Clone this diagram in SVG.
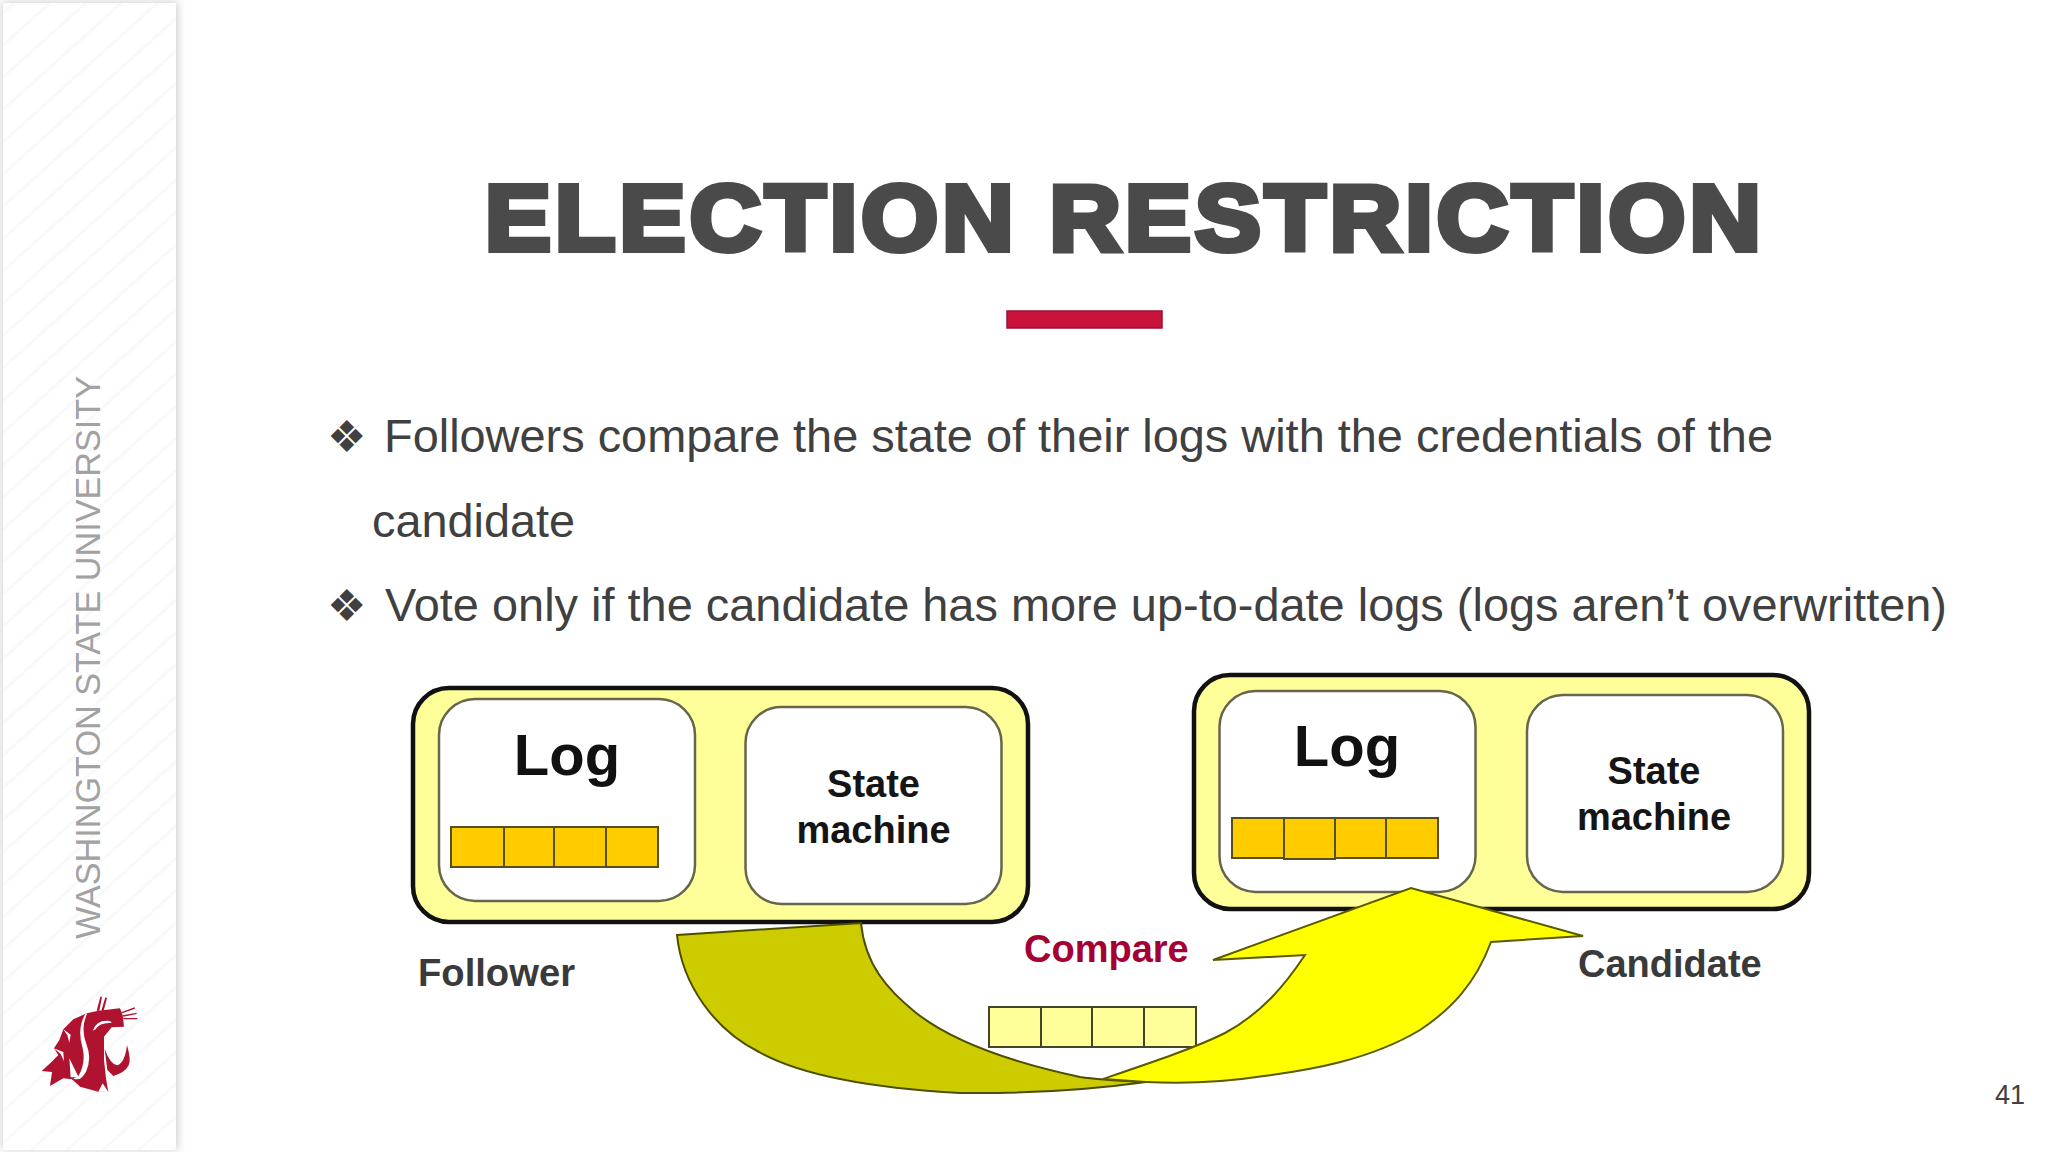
<svg xmlns="http://www.w3.org/2000/svg" width="2048" height="1152" viewBox="0 0 2048 1152">
<defs>
<style>
text{font-family:"Liberation Sans",Arial,sans-serif}
.b{font-weight:bold}
.body{font-size:46px;fill:#404040}
.bul{font-family:"DejaVu Sans",sans-serif;font-size:44px;fill:#404040}
.outer{fill:#ffff99;stroke:#111;stroke-width:4.5}
.inner{fill:#fff;stroke:#66664d;stroke-width:2.5}
.cell{fill:#ffcc00;stroke:#55501a;stroke-width:2}
.lcell{fill:#ffff99;stroke:#44442a;stroke-width:2}
.lg{font-size:58px;font-weight:bold;fill:#111;text-anchor:middle}
.sm{font-size:38px;font-weight:bold;fill:#151515;text-anchor:middle}
.lab{font-size:38px;font-weight:bold;fill:#3a3a3a}
</style>
<pattern id="st" width="24" height="24" patternUnits="userSpaceOnUse" patternTransform="rotate(-42)">
<rect width="24" height="24" fill="#fff"/>
<rect y="10" width="24" height="3" fill="#f9f9f9"/>
</pattern>
<filter id="sh" x="-10%" y="-5%" width="125%" height="110%"><feGaussianBlur stdDeviation="4"/></filter>
</defs>
<rect width="2048" height="1152" fill="#fff"/>
<g id="sidebar">
<rect x="2" y="2" width="176" height="1148" fill="#cfcfcf" filter="url(#sh)"/>
<rect x="3" y="3" width="173" height="1147" fill="url(#st)"/>
<text transform="translate(100,939) rotate(-90)" font-size="34.5" fill="#a2a2a2" textLength="563" lengthAdjust="spacingAndGlyphs">WASHINGTON STATE UNIVERSITY</text>
<g id="logo" transform="translate(30,990) scale(.3333)" fill="#b0132f">
<path d="M170 70 L130 88 L100 118 L88 150 L72 175 L85 195 L62 218 L35 243 L66 246 L60 288 L100 265 L125 268 L150 290 L205 305 L235 306 L228 265 L222 210 L222 140 L245 112 L282 110 L278 75 L270 55 L205 62Z"/>
<path d="M224 176 Q240 222 262 226 Q285 218 291 165 Q304 210 296 226 Q285 248 250 258 L232 240Z"/>
<path d="M200 62 L211 20 L216 20 L208 62Z M214 62 L226 22 L231 24 L221 62Z M275 66 L314 52 L315 56 L277 70Z M278 76 L320 68 L320 72 L280 80Z M280 84 L322 84 L322 88 L280 88Z"/>
<path d="M172 70 Q150 115 170 165 Q186 205 168 245 Q152 275 130 266 L145 258 Q168 220 158 175 Q140 115 166 72Z" fill="#fff"/>
<path d="M188 122 Q200 88 240 93 L245 99 Q210 96 197 118Z" fill="#fff"/>
<path d="M100 118 L122 134 L118 158 L112 136Z M72 175 L100 186 L102 214 L92 192Z M118 205 L146 262 L122 262Z" fill="#fff"/>
<path d="M82 295 L125 268 L150 290 L122 277Z M205 305 L218 280 L235 306Z" fill="#fff"/>
</g>
</g>
<g id="title">
<text class="b" x="485" y="250" font-size="92" fill="#4a4a4a" stroke="#4a4a4a" stroke-width="6" letter-spacing="4" textLength="1280" lengthAdjust="spacingAndGlyphs">ELECTION RESTRICTION</text>
<rect x="1007" y="311" width="155" height="17" fill="#c8143c" stroke="#9a1034" stroke-width="1.5"/>
</g>
<g id="bullets">
<text class="bul" x="327" y="452">❖</text>
<text class="body" x="384" y="452" textLength="1389" lengthAdjust="spacingAndGlyphs">Followers compare the state of their logs with the credentials of the</text>
<text class="body" x="372" y="537" textLength="203" lengthAdjust="spacingAndGlyphs">candidate</text>
<text class="bul" x="327" y="621">❖</text>
<text class="body" x="385" y="621" textLength="1562" lengthAdjust="spacingAndGlyphs">Vote only if the candidate has more up-to-date logs (logs aren’t overwritten)</text>
</g>
<g id="follower">
<rect class="outer" x="413" y="688" width="615" height="234" rx="36"/>
<rect class="inner" x="439" y="699" width="256" height="202" rx="36"/>
<rect class="inner" x="745.500" y="707" width="256" height="197" rx="36"/>
<rect class="cell" x="451" y="827" width="53" height="40"/><rect class="cell" x="504" y="827" width="50" height="40"/><rect class="cell" x="554" y="827" width="52" height="40"/><rect class="cell" x="606" y="827" width="52" height="40"/>
<text class="lg" x="567" y="775">Log</text>
<text class="sm" x="873.500" y="797">State</text>
<text class="sm" x="873.500" y="843">machine</text>
<text class="lab" x="418" y="986" textLength="157" lengthAdjust="spacingAndGlyphs">Follower</text>
</g>
<g id="candidate">
<rect class="outer" x="1194" y="675" width="615" height="234" rx="36"/>
<rect class="inner" x="1219.500" y="691" width="256" height="201" rx="36"/>
<rect class="inner" x="1527" y="695" width="256" height="197" rx="36"/>
<rect class="cell" x="1232" y="818" width="52" height="40"/><rect class="cell" x="1284" y="818" width="51" height="41"/><rect class="cell" x="1335" y="818" width="51" height="40"/><rect class="cell" x="1386" y="818" width="52" height="40"/>
<text class="lg" x="1347" y="766">Log</text>
<text class="sm" x="1654" y="784">State</text>
<text class="sm" x="1654" y="830">machine</text>
<text class="lab" x="1578" y="977">Candidate</text>
</g>
<g id="entries">
<rect class="lcell" x="989" y="1007" width="52" height="40"/><rect class="lcell" x="1041" y="1007" width="51" height="40"/><rect class="lcell" x="1092" y="1007" width="52" height="40"/><rect class="lcell" x="1144" y="1007" width="52" height="40"/>
<text class="b" x="1024" y="962" font-size="38" fill="#a50034">Compare</text>
</g>
<g id="connectors">
<path d="M677 935 L861 923 C865 965 888 990 915 1012 C950 1040 1010 1062 1080 1077 C1100 1080 1125 1081 1146 1082 C1110 1087 1040 1094 960 1093 C870 1088 800 1075 759 1052 C715 1030 682 985 677 935Z" fill="#cccc00" stroke="#4d4d00" stroke-width="2"/>
<path d="M1103 1079 C1150 1063 1195 1048 1225 1033 C1262 1013 1285 985 1305 955 L1213 960 L1411 888 L1583 936 L1491 942 C1475 985 1450 1010 1420 1030 C1370 1060 1310 1070 1264 1076 C1225 1082 1185 1084 1146 1082 L1103 1079Z" fill="#ffff00" stroke="#5a5a00" stroke-width="2"/>
</g>
<text id="page" x="1995" y="1104" font-size="27" fill="#404040">41</text>
</svg>
